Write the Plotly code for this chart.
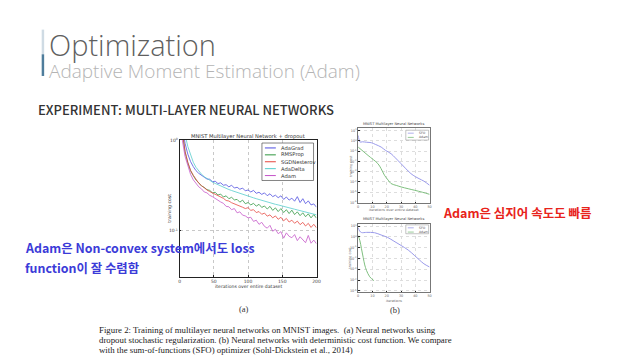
import plotly.graph_objects as go

W, H = 638, 359


def px(x):
    return x / W


def py(y):
    return 1 - y / H


# ---------------- data: panel (a) ----------------
iterations = [0, 4, 8, 12, 16, 20, 24, 28, 32, 36, 40, 44, 48, 52, 56, 60, 64, 68, 72, 76,
              80, 84, 88, 92, 96, 100, 104, 108, 112, 116, 120, 124, 128, 132, 136, 140,
              144, 148, 152, 156, 160, 164, 168, 172, 176, 180, 184, 188, 192, 196, 200]

adagrad = [2.20, 1.40, 0.92, 0.70, 0.58, 0.51, 0.46, 0.43, 0.405, 0.39, 0.372, 0.37, 0.348,
           0.352, 0.332, 0.338, 0.318, 0.322, 0.305, 0.318, 0.296, 0.302, 0.287, 0.296,
           0.276, 0.282, 0.268, 0.279, 0.259, 0.266, 0.252, 0.262, 0.244, 0.256, 0.238,
           0.247, 0.232, 0.243, 0.222, 0.236, 0.218, 0.229, 0.212, 0.238, 0.205, 0.226,
           0.199, 0.214, 0.193, 0.198, 0.182]

rmsprop = [2.00, 1.15, 0.74, 0.56, 0.46, 0.405, 0.362, 0.338, 0.312, 0.301, 0.284, 0.279,
           0.262, 0.266, 0.248, 0.254, 0.236, 0.243, 0.226, 0.234, 0.219, 0.222, 0.207,
           0.218, 0.199, 0.205, 0.193, 0.201, 0.187, 0.196, 0.181, 0.188, 0.174, 0.186,
           0.168, 0.179, 0.163, 0.176, 0.159, 0.171, 0.155, 0.169, 0.151, 0.162, 0.147,
           0.158, 0.143, 0.154, 0.139, 0.151, 0.138]

sgdnesterov = [2.05, 1.18, 0.75, 0.57, 0.465, 0.41, 0.365, 0.335, 0.315, 0.296, 0.282,
               0.271, 0.262, 0.249, 0.244, 0.232, 0.228, 0.216, 0.213, 0.204, 0.199, 0.192,
               0.187, 0.182, 0.176, 0.180, 0.168, 0.171, 0.159, 0.163, 0.152, 0.157, 0.145,
               0.150, 0.139, 0.146, 0.134, 0.141, 0.129, 0.137, 0.125, 0.131, 0.121, 0.128,
               0.117, 0.124, 0.113, 0.121, 0.109, 0.118, 0.108]

adadelta = [3.0, 1.9, 1.15, 0.85, 0.68, 0.57, 0.50, 0.455, 0.42, 0.395, 0.375, 0.36, 0.345,
            0.333, 0.322, 0.311, 0.302, 0.293, 0.285, 0.278, 0.271, 0.264, 0.258, 0.252,
            0.246, 0.241, 0.236, 0.231, 0.226, 0.221, 0.217, 0.212, 0.208, 0.204, 0.200,
            0.196, 0.193, 0.189, 0.186, 0.182, 0.179, 0.176, 0.173, 0.170, 0.167, 0.164,
            0.161, 0.158, 0.156, 0.153, 0.150]

adam = [1.80, 1.00, 0.66, 0.51, 0.42, 0.365, 0.335, 0.305, 0.29, 0.268, 0.262, 0.246, 0.238,
        0.226, 0.219, 0.208, 0.201, 0.186, 0.184, 0.171, 0.176, 0.158, 0.162, 0.149, 0.146,
        0.139, 0.141, 0.127, 0.131, 0.118, 0.124, 0.112, 0.107, 0.115, 0.099, 0.104, 0.093,
        0.098, 0.083, 0.095, 0.087, 0.084, 0.091, 0.078, 0.086, 0.080, 0.074, 0.089, 0.073,
        0.079, 0.072]

series_names = ["AdaGrad", "RMSProp", "SGDNesterov", "AdaDelta", "Adam"]
series_values = [adagrad, rmsprop, sgdnesterov, adadelta, adam]
series_colors = ["#4b4be0", "#2f963f", "#e6453d", "#52cccc", "#c452c8"]

a_xticks = [0, 50, 100, 150, 200]
a_yticks = [0.1, 1]
a_yticktext = ["10<sup>-1</sup>", "10<sup>0</sup>"]

# ---------------- data: panel (b) ----------------
b1_sfo_x = [0, 0.5, 1.2, 3, 6, 9.2, 12, 16.1, 19, 23, 26, 30, 33, 36.9, 40, 42.6, 46, 50]
b1_sfo_y = [3.3, 1.5, 0.76, 0.80, 0.72, 0.65, 0.45, 0.245, 0.12, 0.056, 0.022, 0.006,
            0.0022, 0.00065, 0.00033, 0.00021, 0.00012, 0.000048]
b1_adam_x = [0, 6.9, 13.8, 16, 18.4, 21, 23, 27, 30, 35, 39.2, 45, 50]
b1_adam_y = [0.245, 0.038, 0.006, 0.002, 0.00045, 0.00015, 0.00007, 0.000045, 0.000033,
             0.000022, 0.000016, 0.00001, 0.0000063]

b2_sfo_x = [0, 1, 2.3, 6, 11.5, 16, 20.7, 25, 30, 35, 39.2, 43, 46, 50]
b2_sfo_y = [7.1, 3.5, 2.5, 2.6, 2.4, 1.5, 0.87, 0.4, 0.16, 0.06, 0.02, 0.007, 0.0032, 0.0016]
b2_adam_x = [0, 1.2, 2.3, 3.5, 4.6, 5.8, 8.1, 11]
b2_adam_y = [1.26, 0.44, 0.08, 0.0126, 0.0025, 0.00079, 0.0002, 0.000087]

b_names = ["SFO", "Adam"]
b_colors = ["#9a9aea", "#7fbf7f"]
b_xticks = [0, 10, 20, 30, 40, 50]
b1_yticks = [1e1, 1e0, 1e-1, 1e-2, 1e-3, 1e-4, 1e-5, 1e-6]
b1_yticktext = ["10<sup>1</sup>", "10<sup>0</sup>", "10<sup>-1</sup>", "10<sup>-2</sup>",
                "10<sup>-3</sup>", "10<sup>-4</sup>", "10<sup>-5</sup>", "10<sup>-6</sup>"]
b2_yticks = [1e1, 1e0, 1e-1, 1e-2, 1e-3, 1e-4, 1e-5]
b2_yticktext = b1_yticktext[:7]

fig = go.Figure()

for name, vals, col in zip(series_names, series_values, series_colors):
    fig.add_trace(go.Scatter(x=iterations, y=vals, mode="lines", name=name,
                             line=dict(color=col, width=0.9), opacity=0.85,
                             xaxis="x", yaxis="y", showlegend=False))

fig.add_trace(go.Scatter(x=b1_sfo_x, y=b1_sfo_y, mode="lines", line=dict(color=b_colors[0], width=1),
                         xaxis="x2", yaxis="y2", showlegend=False, line_shape="spline"))
fig.add_trace(go.Scatter(x=b1_adam_x, y=b1_adam_y, mode="lines", line=dict(color=b_colors[1], width=1),
                         xaxis="x2", yaxis="y2", showlegend=False, line_shape="spline"))
fig.add_trace(go.Scatter(x=b2_sfo_x, y=b2_sfo_y, mode="lines", line=dict(color=b_colors[0], width=1),
                         xaxis="x3", yaxis="y3", showlegend=False, line_shape="spline"))
fig.add_trace(go.Scatter(x=b2_adam_x, y=b2_adam_y, mode="lines", line=dict(color=b_colors[1], width=1),
                         xaxis="x3", yaxis="y3", showlegend=False, line_shape="spline"))

axis_common = dict(showline=True, linecolor="#222", linewidth=0.7, mirror=True,
                   ticks="inside", ticklen=2, tickcolor="#222",
                   showgrid=True, gridcolor="#c8c8c8", griddash="dot", gridwidth=0.6,
                   zeroline=False, tickfont=dict(size=4.5, color="#444", family="DejaVu Sans"))
small_common = dict(axis_common)
small_common["tickfont"] = dict(size=3.4, color="#666", family="DejaVu Sans")
small_common["ticklen"] = 1.5
small_common["linecolor"] = "#777"
small_common["gridcolor"] = "#dddddd"

fig.update_layout(
    width=W, height=H, margin=dict(l=0, r=0, t=0, b=0),
    paper_bgcolor="white", plot_bgcolor="white",
    xaxis=dict(domain=[px(180), px(318)], range=[0, 200], tickvals=a_xticks,
               anchor="y", **axis_common),
    yaxis=dict(domain=[py(278), py(139)], type="log", range=[-1.51, 0],
               tickvals=a_yticks, ticktext=a_yticktext, anchor="x", **axis_common),
    xaxis2=dict(domain=[px(360), px(432)], range=[0, 50], tickvals=b_xticks,
                anchor="y2", **small_common),
    yaxis2=dict(domain=[py(203), py(127)], type="log", range=[-6.06, 1.22],
                tickvals=b1_yticks, ticktext=b1_yticktext, anchor="x2", **small_common),
    xaxis3=dict(domain=[px(360), px(432)], range=[0, 50], tickvals=b_xticks,
                anchor="y3", **small_common),
    yaxis3=dict(domain=[py(293), py(224)], type="log", range=[-5.1, 1.2],
                tickvals=b2_yticks, ticktext=b2_yticktext, anchor="x3", **small_common),
)

shapes = []
ann = []


def text(x, y, s, size, color, family, xanchor="left", weight=None, angle=0):
    f = dict(size=size, color=color, family=family)
    if weight is not None:
        f["weight"] = weight
    ann.append(dict(x=px(x), y=py(y), xref="paper", yref="paper", text=s, showarrow=False,
                    xanchor=xanchor, yanchor="middle", font=f, textangle=angle))


# slide header
shapes.append(dict(type="rect", xref="paper", yref="paper", x0=px(41), x1=px(43.5),
                   y0=py(52), y1=py(27), fillcolor="#cfdbe4", line=dict(width=0)))
shapes.append(dict(type="rect", xref="paper", yref="paper", x0=px(41), x1=px(43.5),
                   y0=py(74), y1=py(52), fillcolor="#4f7d9c", line=dict(width=0)))
text(46, 42, "Optimization", 29, "#5f5f5f", "Open Sans", weight=300)
text(46, 69, "Adaptive Moment Estimation (Adam)", 19, "#b4b4b4", "Open Sans", weight=300)
text(35, 108, "EXPERIMENT: MULTI-LAYER NEURAL NETWORKS", 13, "#333333",
     "Noto Sans CJK KR", weight=500)

# panel (a) labels
text(249, 135, "MNIST Multilayer Neural Network + dropout", 5.2, "#333", "DejaVu Sans", "center")
text(249, 288, "iterations over entire dataset", 4.6, "#333", "DejaVu Sans", "center")
text(169, 208, "training cost", 4.6, "#333", "DejaVu Sans", "center", angle=-90)

# panel (a) legend
shapes.append(dict(type="rect", xref="paper", yref="paper", x0=px(263), x1=px(315),
                   y0=py(180), y1=py(142), fillcolor="white", line=dict(color="#333", width=0.6)))
for i, (name, col) in enumerate(zip(series_names, series_colors)):
    yy = 147 + 7 * i
    shapes.append(dict(type="line", xref="paper", yref="paper", x0=px(266), x1=px(277),
                       y0=py(yy), y1=py(yy), line=dict(color=col, width=1)))
    text(280, yy, name, 5.2, "#333", "DejaVu Sans")

# panel (b) labels
for ytitle, ylab, yleg0, yleg1, ymid in [(123, 209.5, 129, 139, 165), (219.5, 302, 225, 234, 258)]:
    text(396, ytitle, "MNIST Multilayer Neural Networks", 3.6, "#444", "DejaVu Sans", "center")
    text(396, ylab, "iterations over entire dataset" if ytitle == 123 else "iterations",
         3.4, "#666", "DejaVu Sans", "center")
    text(352, ymid, "training cost", 3.4, "#666", "DejaVu Sans", "center", angle=-90)
    shapes.append(dict(type="rect", xref="paper", yref="paper", x0=px(408), x1=px(431),
                       y0=py(yleg1), y1=py(yleg0), fillcolor="white",
                       line=dict(color="#888", width=0.5)))
    for j, (nm, col) in enumerate(zip(b_names, b_colors)):
        yy = yleg0 + 3 + 4.3 * j
        shapes.append(dict(type="line", xref="paper", yref="paper", x0=px(410), x1=px(416),
                           y0=py(yy), y1=py(yy), line=dict(color=col, width=0.8)))
        text(419, yy, nm, 3.2, "#555", "DejaVu Sans")

text(245, 310, "(a)", 8.5, "#333", "Liberation Serif", "center")
text(397, 311, "(b)", 8.5, "#333", "Liberation Serif", "center")

# caption
cap = ["Figure 2: Training of multilayer neural networks on MNIST images.  (a) Neural networks using",
       "dropout stochastic regularization. (b) Neural networks with deterministic cost function. We compare",
       "with the sum-of-functions (SFO) optimizer (Sohl-Dickstein et al., 2014)"]
for k, line in enumerate(cap):
    text(97, 332 + 10 * k, line, 8.8, "#222", "Liberation Serif")

# slide remarks
text(443, 212, "Adam은 심지어 속도도 빠름", 12.5, "#e8231b", "Noto Sans CJK KR", weight=700)
text(22, 248, "Adam은 Non-convex system에서도 loss", 12.4, "#3b3bd8", "Noto Sans CJK KR", weight=700)
text(22, 269, "function이 잘 수렴함", 12.4, "#3b3bd8", "Noto Sans CJK KR", weight=700)

fig.update_layout(shapes=shapes, annotations=ann)
fig.write_html("out.html", config={"displayModeBar": False},
               post_script="document.body.style.margin='0';document.body.style.overflow='hidden';")
